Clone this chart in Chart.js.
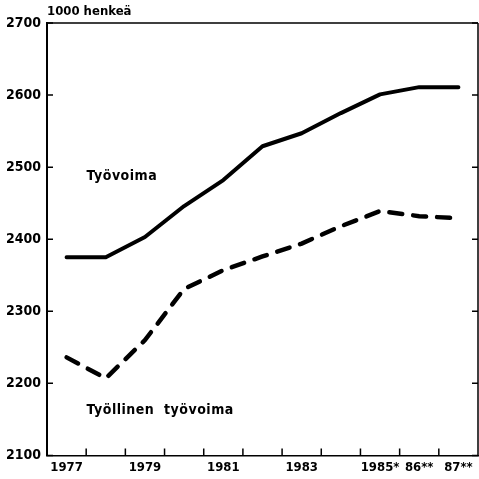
<!DOCTYPE html>
<html>
<head>
<meta charset="utf-8">
<script src="https://cdn.jsdelivr.net/npm/chart.js@4"></script>
<style>
  html, body { margin: 0; padding: 0; background: #fff; }
  #wrap { width: 479px; height: 479px; }
</style>
</head>
<body>
<div id="wrap"><canvas id="chart"></canvas></div>
<script>
// Työvoima ja työllinen työvoima 1977–1987, 1000 henkeä
const vuodet = ["1977", "1978", "1979", "1980", "1981", "1982", "1983", "1984", "1985", "1986", "1987"];
const vuosiTekstit = ["1977", "", "1979", "", "1981", "", "1983", "", "1985*", "86**", "87**"];
const tyovoima = [2375, 2375, 2403, 2446, 2482, 2529, 2547, 2575, 2601, 2611, 2611];
const tyollinen = [2236, 2207, 2260, 2331, 2357, 2376, 2394, 2418, 2439, 2432, 2429];
const yTicks = [2100, 2200, 2300, 2400, 2500, 2600, 2700];

const FONTTI = "'DejaVu Sans Condensed', 'Liberation Sans Narrow', sans-serif";

// kehys, sisäänpäin osoittavat tikit ja tekstit
const koristeet = {
  id: "koristeet",
  afterDraw(chart) {
    const { ctx, chartArea: a, scales } = chart;
    const x = scales.x, y = scales.y;
    ctx.save();
    ctx.strokeStyle = "#000";
    ctx.lineWidth = 1.5;
    ctx.beginPath();
    ctx.moveTo(a.left, a.top); ctx.lineTo(a.right, a.top);
    ctx.moveTo(a.right, a.top); ctx.lineTo(a.right, a.bottom);
    ctx.stroke();

    ctx.beginPath();
    yTicks.forEach((v) => {
      const py = y.getPixelForValue(v);
      ctx.moveTo(a.left, py); ctx.lineTo(a.left + 6, py);
      ctx.moveTo(a.right, py); ctx.lineTo(a.right - 6, py);
    });
    for (let i = 0; i < vuodet.length - 1; i++) {
      const px = (x.getPixelForValue(i) + x.getPixelForValue(i + 1)) / 2;
      ctx.moveTo(px, a.bottom); ctx.lineTo(px, a.bottom - 7);
    }
    ctx.stroke();

    ctx.fillStyle = "#000";
    ctx.textBaseline = "middle";
    ctx.textAlign = "left";
    ctx.font = "bold 13px " + FONTTI;
    ctx.fillText("1000 henkeä", a.left, 12);
    ctx.font = "bold 14px " + FONTTI;
    ctx.letterSpacing = "0.5px";
    ctx.fillText("Työvoima", x.getPixelForValue(0) + 20, y.getPixelForValue(2487));
    ctx.fillText("Työllinen  työvoima", x.getPixelForValue(0) + 20, y.getPixelForValue(2162));
    ctx.restore();
  },
};

new Chart(document.getElementById("chart"), {
  type: "line",
  data: {
    labels: vuodet,
    datasets: [
      {
        label: "Työvoima",
        data: tyovoima,
        borderColor: "#000",
        borderWidth: 4,
        borderCapStyle: "round",
        borderJoinStyle: "round",
        pointRadius: 0,
        tension: 0,
        fill: false,
      },
      {
        label: "Työllinen työvoima",
        data: tyollinen,
        borderColor: "#000",
        borderWidth: 4.5,
        borderDash: [13, 11],
        borderCapStyle: "round",
        pointRadius: 0,
        tension: 0,
        fill: false,
      },
    ],
  },
  options: {
    responsive: true,
    maintainAspectRatio: false,
    animation: false,
    layout: { padding: { top: 23, right: 1, left: 0, bottom: 0 } },
    plugins: { legend: { display: false }, tooltip: { enabled: false } },
    scales: {
      x: {
        type: "category",
        offset: true,
        grid: { display: false, drawTicks: false },
        border: { display: true, color: "#000", width: 1.5 },
        ticks: {
          autoSkip: false,
          maxRotation: 0,
          color: "#000",
          padding: 4,
          font: { family: FONTTI, size: 13, weight: "bold" },
          callback: (v, i) => vuosiTekstit[i],
        },
      },
      y: {
        min: 2100,
        max: 2700,
        afterFit: (s) => { s.width = 47; },
        afterBuildTicks: (s) => { s.ticks = yTicks.map((v) => ({ value: v })); },
        grid: { display: false, drawTicks: false },
        border: { display: true, color: "#000", width: 2 },
        ticks: {
          color: "#000",
          padding: 6,
          font: { family: FONTTI, size: 14, weight: "bold" },
          callback: (v) => String(v),
        },
      },
    },
  },
  plugins: [koristeet],
});
</script>
</body>
</html>
